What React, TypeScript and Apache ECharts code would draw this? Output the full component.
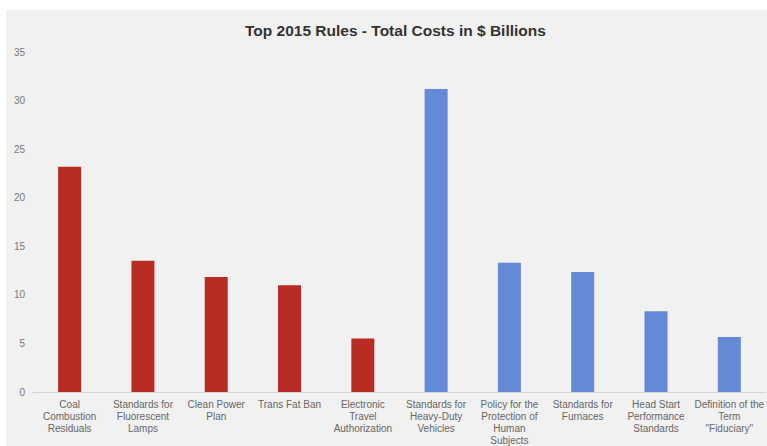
import React, { useEffect, useRef } from "react";
import * as echarts from "echarts";

const categories = [
  "Coal\nCombustion\nResiduals",
  "Standards for\nFluorescent\nLamps",
  "Clean Power\nPlan",
  "Trans Fat Ban",
  "Electronic\nTravel\nAuthorization",
  "Standards for\nHeavy-Duty\nVehicles",
  "Policy for the\nProtection of\nHuman\nSubjects",
  "Standards for\nFurnaces",
  "Head Start\nPerformance\nStandards",
  "Definition of the\nTerm\n\"Fiduciary\"",
];
const values = [23.2, 13.5, 11.85, 11.0, 5.5, 31.2, 13.3, 12.35, 8.3, 5.65];
const barColors = ["#b92b25", "#b92b25", "#b92b25", "#b92b25", "#b92b25", "#6489d6", "#6489d6", "#6489d6", "#6489d6", "#6489d6"];
const yTicks = { min: 0, max: 35, interval: 5 };

export default function App() {
  const ref = useRef<HTMLDivElement>(null);
  useEffect(() => {
    if (!ref.current) return;
    const chart = echarts.init(ref.current, undefined, { renderer: "svg" });
    chart.setOption({
      animation: false,
      backgroundColor: "#f1f1f1",
      title: {
        text: "Top 2015 Rules - Total Costs in $ Billions",
        left: 234,
        top: 7,
        textStyle: {
          fontFamily: "Liberation Sans, Arial, sans-serif",
          fontWeight: "bold",
          fontSize: 15.5,
          color: "#333333",
        },
      },
      grid: { left: 27, right: 0, top: 42, bottom: 54, containLabel: false },
      xAxis: {
        type: "category",
        data: categories,
        axisLine: { show: true, lineStyle: { color: "#d4d4d4", width: 1 } },
        axisTick: { show: false },
        axisLabel: {
          interval: 0,
          margin: 6,
          fontSize: 10,
          lineHeight: 12,
          color: "#666666",
          fontFamily: "Liberation Sans, Arial, sans-serif",
        },
      },
      yAxis: {
        type: "value",
        min: yTicks.min,
        max: yTicks.max,
        interval: yTicks.interval,
        axisLine: { show: false },
        axisTick: { show: false },
        splitLine: { show: false },
        axisLabel: {
          margin: 8,
          fontSize: 10,
          color: "#777777",
          fontFamily: "Liberation Sans, Arial, sans-serif",
        },
      },
      series: [
        {
          type: "bar",
          barWidth: 23,
          data: values.map((v, i) => ({ value: v, itemStyle: { color: barColors[i] } })),
        },
      ],
    });
    return () => chart.dispose();
  }, []);
  return (
    <div style={{ position: "fixed", left: 0, top: 0, width: 767, height: 446, background: "#ffffff" }}>
      <div ref={ref} style={{ position: "absolute", left: 6, top: 10, width: 761, height: 436 }} />
    </div>
  );
}
